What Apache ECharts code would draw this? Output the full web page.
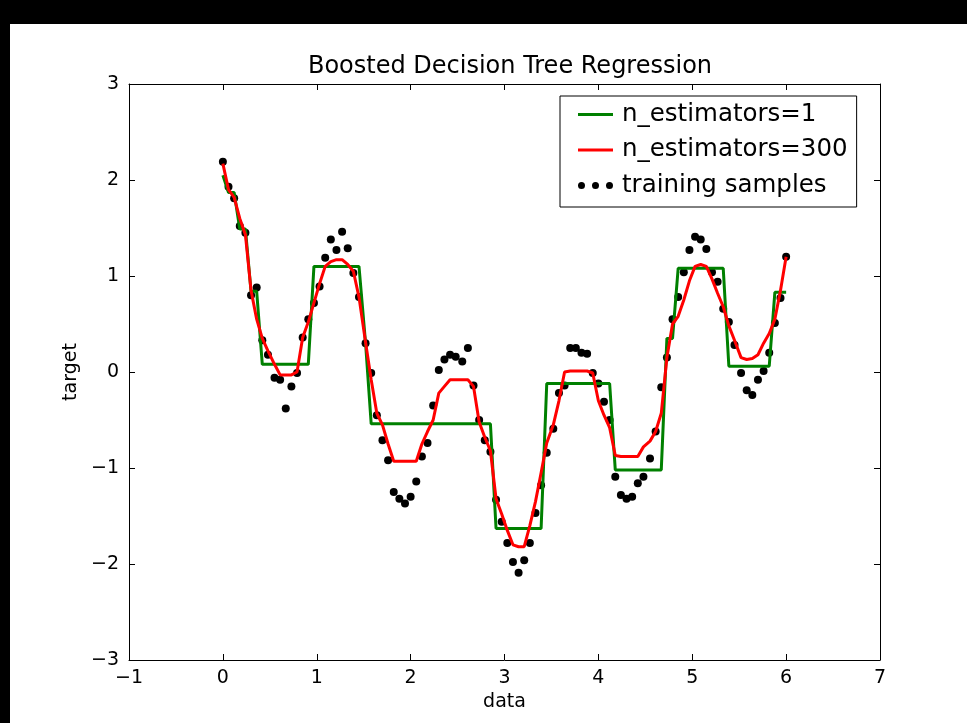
<!DOCTYPE html>
<html>
<head>
<meta charset="utf-8">
<script src="https://cdn.jsdelivr.net/npm/echarts@6/dist/echarts.min.js"></script>
<style>
html,body{margin:0;padding:0;background:#fff;}
#chart{width:967px;height:723px;}
</style>
</head>
<body>
<div id="chart"></div>
<script>
// ---- data ----
const titleText = 'Boosted Decision Tree Regression';
const xAxisName = 'data';
const yAxisName = 'target';
const xTicks = [-1, 0, 1, 2, 3, 4, 5, 6, 7];
const yTicks = [-3, -2, -1, 0, 1, 2, 3];

const xValues = [
  0.00,0.06,0.12,0.18,0.24,0.30,0.36,0.42,0.48,0.55,
  0.61,0.67,0.73,0.79,0.85,0.91,0.97,1.03,1.09,1.15,
  1.21,1.27,1.33,1.39,1.45,1.52,1.58,1.64,1.70,1.76,
  1.82,1.88,1.94,2.00,2.06,2.12,2.18,2.24,2.30,2.36,
  2.42,2.48,2.55,2.61,2.67,2.73,2.79,2.85,2.91,2.97,
  3.03,3.09,3.15,3.21,3.27,3.33,3.39,3.45,3.52,3.58,
  3.64,3.70,3.76,3.82,3.88,3.94,4.00,4.06,4.12,4.18,
  4.24,4.30,4.36,4.42,4.48,4.55,4.61,4.67,4.73,4.79,
  4.85,4.91,4.97,5.03,5.09,5.15,5.21,5.27,5.33,5.39,
  5.45,5.52,5.58,5.64,5.70,5.76,5.82,5.88,5.94,6.00
];

const trainingSamples = [
  2.19,1.93,1.81,1.52,1.45,0.80,0.88,0.33,0.18,-0.06,
  -0.08,-0.38,-0.15,-0.01,0.36,0.55,0.72,0.89,1.19,1.38,
  1.27,1.46,1.29,1.03,0.78,0.30,-0.01,-0.45,-0.71,-0.92,
  -1.25,-1.32,-1.37,-1.30,-1.14,-0.88,-0.74,-0.35,0.02,0.13,
  0.18,0.16,0.11,0.25,-0.14,-0.50,-0.71,-0.83,-1.33,-1.56,
  -1.78,-1.98,-2.09,-1.96,-1.78,-1.47,-1.18,-0.84,-0.59,-0.22,
  -0.14,0.25,0.25,0.20,0.19,-0.01,-0.12,-0.31,-0.50,-1.09,
  -1.28,-1.32,-1.30,-1.16,-1.09,-0.90,-0.62,-0.16,0.15,0.55,
  0.78,1.04,1.27,1.41,1.38,1.28,1.04,0.94,0.66,0.52,
  0.28,-0.01,-0.19,-0.24,-0.08,0.01,0.20,0.51,0.77,1.20
];

const nEstimators1 = [
  2.05,1.87,1.87,1.49,1.49,0.84,0.84,0.08,0.08,0.08,
  0.08,0.08,0.08,0.08,0.08,0.08,1.10,1.10,1.10,1.10,
  1.10,1.10,1.10,1.10,1.10,0.30,-0.54,-0.54,-0.54,-0.54,
  -0.54,-0.54,-0.54,-0.54,-0.54,-0.54,-0.54,-0.54,-0.54,-0.54,
  -0.54,-0.54,-0.54,-0.54,-0.54,-0.54,-0.54,-0.54,-1.63,-1.63,
  -1.63,-1.63,-1.63,-1.63,-1.63,-1.63,-1.63,-0.12,-0.12,-0.12,
  -0.12,-0.12,-0.12,-0.12,-0.12,-0.12,-0.12,-0.12,-0.12,-1.02,
  -1.02,-1.02,-1.02,-1.02,-1.02,-1.02,-1.02,-1.02,0.35,0.35,
  1.08,1.08,1.08,1.08,1.08,1.08,1.08,1.08,1.08,0.06,
  0.06,0.06,0.06,0.06,0.06,0.06,0.06,0.83,0.83,0.83
];

const nEstimators300 = [
  2.17,1.90,1.82,1.60,1.43,0.85,0.55,0.35,0.22,0.08,
  -0.03,-0.03,-0.03,0.00,0.36,0.52,0.72,0.92,1.10,1.15,
  1.17,1.17,1.12,1.05,0.78,0.31,-0.08,-0.43,-0.55,-0.75,
  -0.93,-0.93,-0.93,-0.93,-0.93,-0.75,-0.62,-0.50,-0.22,-0.15,
  -0.08,-0.08,-0.08,-0.08,-0.15,-0.52,-0.68,-0.82,-1.32,-1.48,
  -1.65,-1.80,-1.82,-1.82,-1.60,-1.35,-1.05,-0.74,-0.55,-0.30,
  0.00,0.01,0.01,0.01,0.01,-0.01,-0.30,-0.45,-0.58,-0.87,
  -0.88,-0.88,-0.88,-0.88,-0.78,-0.72,-0.62,-0.43,0.15,0.50,
  0.58,0.75,0.95,1.10,1.12,1.10,0.97,0.82,0.68,0.48,
  0.33,0.15,0.13,0.14,0.18,0.30,0.40,0.55,0.85,1.20
];

const seriesNames = ['n_estimators=1', 'n_estimators=300', 'training samples'];

// ---- chart ----
const FONT = 'DejaVu Sans';
const pairs = ys => xValues.map((x, i) => [x, ys[i]]);
const fmt = v => String(v).replace('-', '\u2212');

const baseAxis = (min, max, interval) => ({
  type: 'value', min: min, max: max, interval: interval,
  axisLine: { show: true, onZero: false, lineStyle: { color: '#000', width: 1 } },
  axisTick: { show: true, inside: true, length: 6, lineStyle: { color: '#000', width: 1 } },
  splitLine: { show: false }
});

const lineIcon = 'path://M0,0H35V3H0Z';
const threeDots = 'path://M0,3.5a3.5,3.5 0 1,0 7,0a3.5,3.5 0 1,0 -7,0Z' +
  'M14,3.5a3.5,3.5 0 1,0 7,0a3.5,3.5 0 1,0 -7,0Z' +
  'M28,3.5a3.5,3.5 0 1,0 7,0a3.5,3.5 0 1,0 -7,0Z';

const chart = echarts.init(document.getElementById('chart'), null, { renderer: 'canvas' });
chart.setOption({
  backgroundColor: '#fff',
  animation: false,
  title: {
    text: titleText, left: 505, top: 50, textAlign: 'center',
    textStyle: { fontFamily: FONT, fontSize: 24, fontWeight: 'normal', color: '#000' }
  },
  grid: { left: 129, right: 87, top: 84, bottom: 63, outerBoundsMode: 'none' },
  legend: {
    orient: 'vertical', left: 560, top: 96,
    padding: [6, 9, 9, 18], itemGap: 10.5, itemWidth: 35, itemHeight: 14,
    borderColor: '#000', borderWidth: 1, borderRadius: 0, backgroundColor: '#fff',
    textStyle: { fontFamily: FONT, fontSize: 24.5, color: '#000', lineHeight: 25, padding: [0, 0, 0, 4] },
    data: [
      { name: seriesNames[0], icon: lineIcon },
      { name: seriesNames[1], icon: lineIcon },
      { name: seriesNames[2], icon: threeDots, itemStyle: { color: '#000', opacity: 1 } }
    ]
  },
  xAxis: [
    Object.assign(baseAxis(xTicks[0], xTicks[xTicks.length - 1], 1), {
      position: 'bottom',
      axisLabel: { formatter: fmt, color: '#000', fontFamily: FONT, fontSize: 19, margin: 9 },
      name: xAxisName, nameLocation: 'middle', nameGap: 33,
      nameTextStyle: { fontFamily: FONT, fontSize: 19, color: '#000' }
    }),
    Object.assign(baseAxis(xTicks[0], xTicks[xTicks.length - 1], 1), {
      position: 'top', axisLabel: { show: false }
    })
  ],
  yAxis: [
    Object.assign(baseAxis(yTicks[0], yTicks[yTicks.length - 1], 1), {
      position: 'left',
      axisLabel: { formatter: fmt, color: '#000', fontFamily: FONT, fontSize: 19, margin: 10 },
      name: yAxisName, nameLocation: 'middle', nameGap: 41,
      nameTextStyle: { fontFamily: FONT, fontSize: 19, color: '#000' }
    }),
    Object.assign(baseAxis(yTicks[0], yTicks[yTicks.length - 1], 1), {
      position: 'right', axisLabel: { show: false }
    })
  ],
  series: [
    {
      name: seriesNames[2], type: 'scatter', data: pairs(trainingSamples),
      symbol: 'circle', symbolSize: 8, itemStyle: { color: '#000', opacity: 1 }, z: 2
    },
    {
      name: seriesNames[0], type: 'line', data: pairs(nEstimators1),
      symbol: 'none', lineStyle: { color: '#008000', width: 3 }, itemStyle: { color: '#008000' }, z: 3
    },
    {
      name: seriesNames[1], type: 'line', data: pairs(nEstimators300),
      symbol: 'none', lineStyle: { color: '#ff0000', width: 3 }, itemStyle: { color: '#ff0000' }, z: 4
    }
  ],
  graphic: [
    { type: 'rect', shape: { x: 0, y: 0, width: 967, height: 24 }, style: { fill: '#000' }, z: 100 },
    { type: 'rect', shape: { x: 0, y: 0, width: 10, height: 723 }, style: { fill: '#000' }, z: 100 }
  ]
});
</script>
</body>
</html>
